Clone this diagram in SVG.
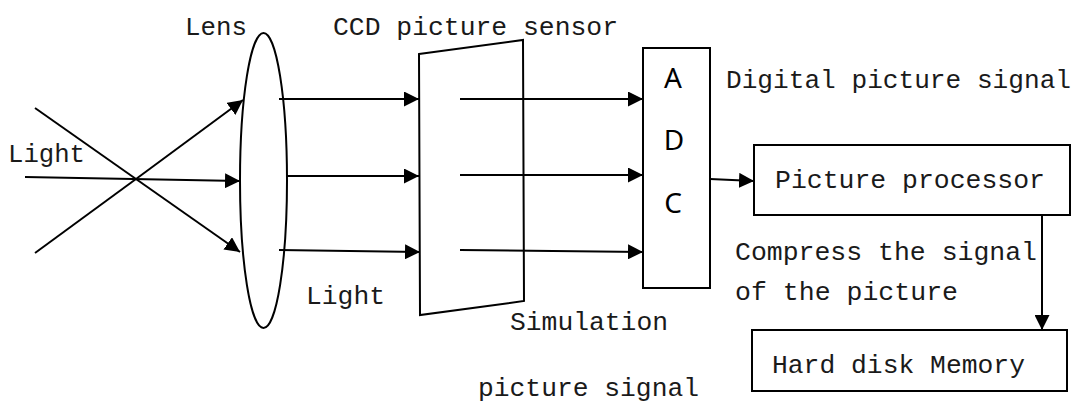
<svg xmlns="http://www.w3.org/2000/svg" width="1080" height="403" viewBox="0 0 1080 403">
  <defs>
    <marker id="arrow" markerUnits="userSpaceOnUse" markerWidth="15" markerHeight="15" refX="15" refY="7.5" orient="auto">
      <path d="M0,0 L15,7.5 L0,15 z" fill="#000"/>
    </marker>
    <style>
      .ln { stroke: #000; stroke-width: 2; fill: none; }
      .arr { stroke: #000; stroke-width: 2; fill: none; marker-end: url(#arrow); }
      .box { stroke: #000; stroke-width: 2; fill: #fff; }
      .lbl { font-family: "Liberation Mono", "DejaVu Sans Mono", monospace; font-size: 26.4px; fill: #1a1a1a; }
      .adc { font-family: "Noto Sans", "Open Sans", sans-serif; font-size: 28px; fill: #000; text-anchor: middle; }
    </style>
  </defs>
  <rect width="1080" height="403" fill="#fff"/>

  <g id="connectors">
    <!-- incoming light rays -->
    <line class="ln" x1="35" y1="108" x2="136" y2="179"/>
    <line class="arr" x1="136" y1="179" x2="240" y2="252"/>
    <line class="ln" x1="35" y1="253" x2="136" y2="179"/>
    <line class="arr" x1="136" y1="179" x2="243" y2="100"/>
    <line class="arr" x1="25" y1="177" x2="240" y2="181"/>

    <!-- lens to sensor -->
    <line class="arr" x1="279" y1="99" x2="419" y2="99"/>
    <line class="arr" x1="287" y1="176" x2="419" y2="176"/>
    <line class="arr" x1="279" y1="250" x2="420" y2="252"/>

    <!-- sensor to converter -->
    <line class="arr" x1="460" y1="99" x2="643" y2="99"/>
    <line class="arr" x1="460" y1="175" x2="643" y2="175"/>
    <line class="arr" x1="460" y1="250" x2="643" y2="252"/>

    <!-- converter to processor to storage -->
    <line class="arr" x1="710" y1="179" x2="754" y2="181"/>
    <line class="arr" x1="1042" y1="215" x2="1042" y2="330"/>
  </g>

  <g id="lens">
    <ellipse cx="263.5" cy="180.5" rx="23.5" ry="147.5" class="ln"/>
    <text class="lbl" x="185" y="35" textLength="62" lengthAdjust="spacingAndGlyphs">Lens</text>
  </g>

  <g id="ccd">
    <polygon class="ln" points="419,54 523,40 524,301 420,315"/>
    <text class="lbl" x="333" y="35" textLength="285" lengthAdjust="spacingAndGlyphs">CCD picture sensor</text>
  </g>

  <g id="adc">
    <rect class="box" x="643" y="48" width="67" height="240" fill="none"/>
    <text class="adc" x="673" y="88">A</text>
    <text class="adc" x="674" y="150">D</text>
    <text class="adc" x="673" y="213">C</text>
  </g>

  <g id="processor">
    <rect class="box" x="754" y="145" width="316" height="70"/>
    <text class="lbl" x="775" y="188" textLength="270" lengthAdjust="spacingAndGlyphs">Picture processor</text>
  </g>

  <g id="memory">
    <rect class="box" x="752" y="330" width="315" height="61"/>
    <text class="lbl" x="772" y="373" textLength="253" lengthAdjust="spacingAndGlyphs">Hard disk Memory</text>
  </g>

  <g id="labels">
    <text class="lbl" x="8" y="162" textLength="77" lengthAdjust="spacingAndGlyphs">Light</text>
    <text class="lbl" x="306" y="304" textLength="79" lengthAdjust="spacingAndGlyphs">Light</text>
    <text class="lbl" x="510" y="330" textLength="158" lengthAdjust="spacingAndGlyphs">Simulation</text>
    <text class="lbl" x="478" y="396" textLength="221" lengthAdjust="spacingAndGlyphs">picture signal</text>
    <text class="lbl" x="726" y="88" textLength="345" lengthAdjust="spacingAndGlyphs">Digital picture signal</text>
    <text class="lbl" x="735" y="260" textLength="302" lengthAdjust="spacingAndGlyphs">Compress the signal</text>
    <text class="lbl" x="735" y="300" textLength="223" lengthAdjust="spacingAndGlyphs">of the picture</text>
  </g>
</svg>
